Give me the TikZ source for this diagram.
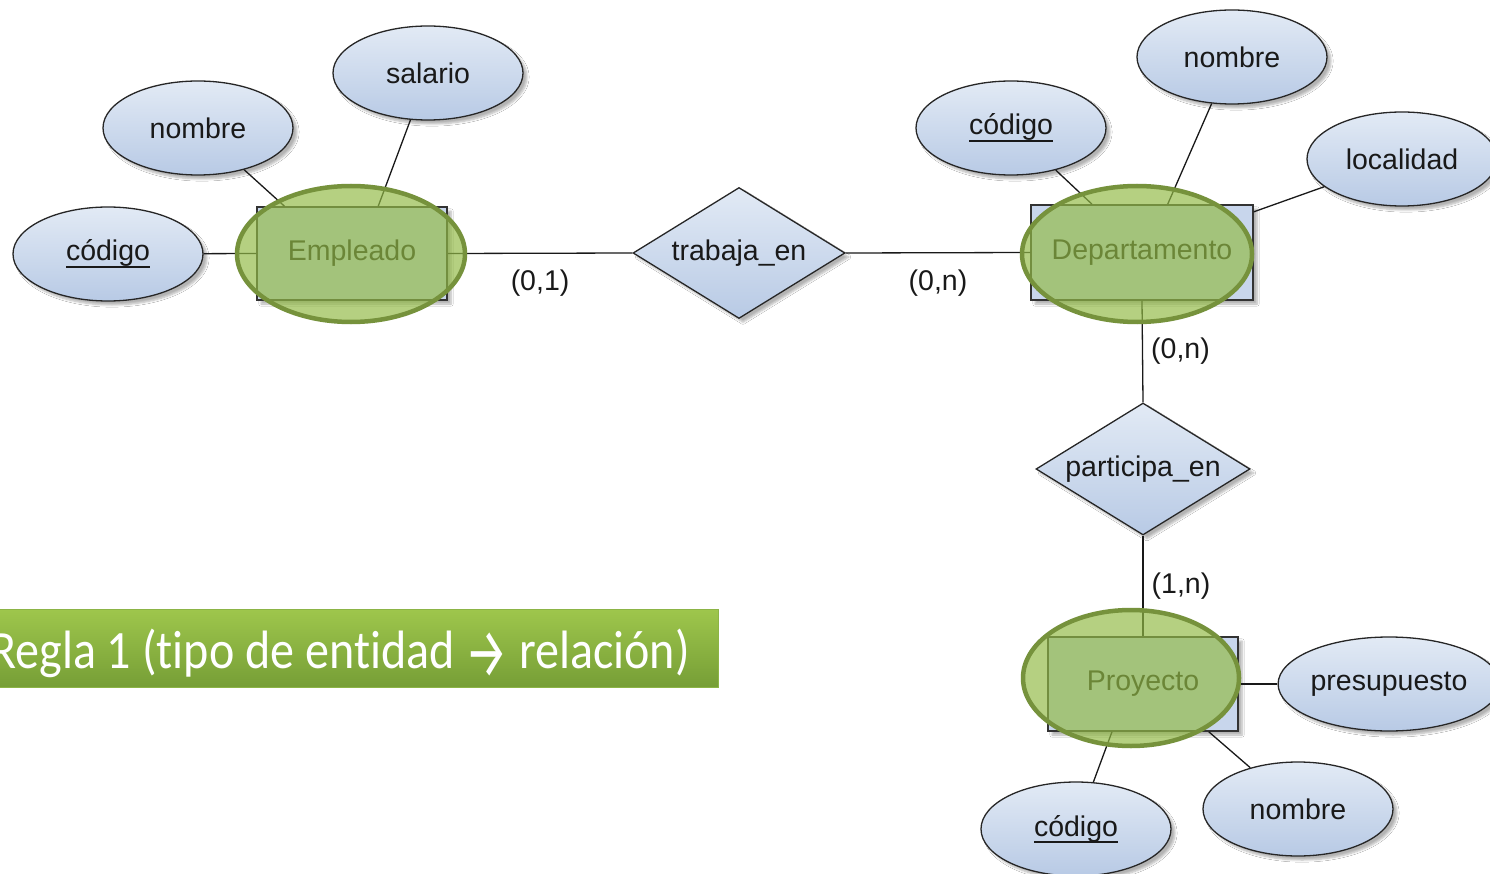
\documentclass[tikz,border=0pt]{standalone}
\usepackage{fontspec}
\setmainfont{Liberation Sans}
\newfontfamily\bannerfont{Carlito}[Ligatures={NoCommon}]
\newfontfamily\arrowfont{Fira Sans}
\usetikzlibrary{shapes.geometric,shadows.blur}

\definecolor{attrtop}{RGB}{226,234,245}
\definecolor{attrbot}{RGB}{184,202,229}
\definecolor{entblue}{RGB}{200,214,236}
\definecolor{markfill}{RGB}{146,186,70}
\definecolor{markline}{RGB}{118,146,60}
\definecolor{bantop}{RGB}{158,198,76}
\definecolor{banbot}{RGB}{118,158,54}
\definecolor{banline}{RGB}{140,180,70}

% key attribute: text with a heavier rule set lower than \underline
\newcommand{\keyattr}[1]{\setbox0\hbox{#1}\rlap{\raisebox{-7pt}{\rule{\wd0}{1.8pt}}}\box0}

\tikzset{
  erfont/.style={font=\fontsize{28.5}{33}\selectfont, text=black!90},
  attr/.style={ellipse, erfont, draw=black!85, line width=1.3pt,
    minimum width=190pt, minimum height=94pt, inner sep=0pt,
    top color=attrtop, bottom color=attrbot,
    blur shadow={shadow xshift=4pt, shadow yshift=-4pt, shadow blur steps=6, shadow opacity=30}},
  entity/.style={rectangle, erfont, draw=black!80, line width=1.5pt, fill=entblue,
    inner sep=0pt,
    blur shadow={shadow xshift=4pt, shadow yshift=-4pt, shadow blur steps=6, shadow opacity=30}},
  rel/.style={diamond, erfont, draw=black!85, line width=1.3pt, inner sep=0pt,
    aspect=1.62, top color=attrtop, bottom color=attrbot,
    blur shadow={shadow xshift=4pt, shadow yshift=-4pt, shadow blur steps=6, shadow opacity=30}},
  hilite/.style={ellipse, draw=markline, line width=4.5pt, fill=markfill, fill opacity=0.68},
  link/.style={draw=black!90, line width=1.3pt},
  card/.style={erfont, inner sep=0pt},
}

\begin{document}
\begin{tikzpicture}[x=1pt,y=-1pt]
\useasboundingbox[fill=white] (0,0) rectangle (1490,874);

% attributes
\node[attr] (ecod) at (108,254) {\keyattr{código}};
\node[attr] (enom) at (198,128) {nombre};
\node[attr] (esal) at (428,73) {salario};
\node[attr] (dcod) at (1011,128) {\keyattr{código}};
\node[attr] (dnom) at (1232,57) {nombre};
\node[attr] (dloc) at (1402,159) {localidad};
\node[attr, minimum width=186pt] (ppre) at (1389,684) {presupuesto};
\node[attr] (pnom) at (1298,809) {nombre};
\node[attr] (pcod) at (1076,829) {\keyattr{código}};

% relationships
\node[rel, minimum width=212pt, minimum height=131pt] (trab) at (739,253) {trabaja\_en};
\node[rel, minimum width=214pt, minimum height=132pt] (part) at (1143,469) {participa\_en};

% entities
\node[entity, minimum width=190pt, minimum height=93pt] (emp) at (352,253.5) {Empleado};
\node[entity, minimum width=222pt, minimum height=95pt] (dep) at (1142,252.5) {Departamento};
\node[entity, minimum width=190pt, minimum height=94pt] (pro) at (1143,684) {Proyecto};

% connectors
\path[link] (ecod) -- (emp.west);
\path[link] (enom) -- (emp.145);
\path[link] (esal) -- (emp.61);
\path[link] (emp.east) -- node[card, pos=0.5, below=16pt] {(0,1)} (trab.west);
\path[link] (trab.east) -- node[card, pos=0.5, below=16pt] {(0,n)} (dep.west);
\path[link] (dcod) -- (dep.136.5);
\path[link] (dnom) -- (dep.62);
\path[link] (dloc) -- (dep.20.5);
\path[link] (dep.south) -- node[card, pos=0.5, right=8pt] {(0,n)} (part.north);
\path[link] (part.south) -- node[card, pos=0.5, right=8pt] {(1,n)} (pro.north);
\path[link] (ppre) -- (pro.east);
\path[link] (pnom) -- (pro.-36);
\path[link] (pcod) -- (pro.-123);

% highlight ellipses over the entity types
\node[hilite, minimum width=228pt, minimum height=136pt] (hemp) at (351,254) {};
\node[hilite, minimum width=230pt, minimum height=136pt] (hdep) at (1137,254) {};
\node[hilite, minimum width=216pt, minimum height=136pt] (hpro) at (1131,678) {};

% rule banner
\node[rectangle, draw=banline, line width=1pt, top color=bantop, bottom color=banbot,
  minimum width=720pt, minimum height=78pt, inner sep=0pt] (banner) at (358,648.5) {};
\node[text=white, inner sep=0pt, anchor=base, xscale=0.89, font=\bannerfont\fontsize{54}{60}\selectfont]
  (bantext) at (340,668) {Regla 1 (tipo de entidad {\arrowfont\fontsize{70}{72}\selectfont\raisebox{-9pt}[0pt][0pt]{\scalebox{0.76}[1]{→}}} relación)};
\end{tikzpicture}
\end{document}
